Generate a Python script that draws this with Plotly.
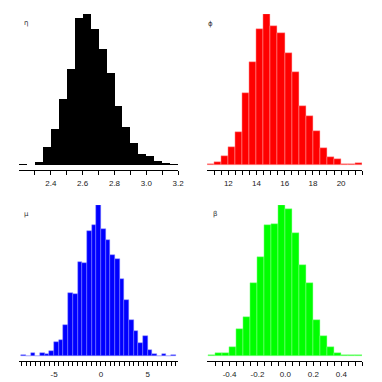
import numpy as np
import plotly.graph_objects as go

# ---- data (histogram counts) ----
eta_start, eta_width = 2.2, 0.05
eta_counts = [2, 0, 7, 52, 108, 196, 286, 441, 452, 406, 346, 274, 176, 112, 66, 32, 26, 10, 4, 2]

phi_start, phi_width = 10.5, 0.5
phi_counts = [2, 8, 26, 54, 99, 216, 307, 407, 452, 416, 396, 334, 279, 176, 146, 101, 51, 24, 16, 3, 2, 5]

mu_start, mu_width = -8.5, 0.5
mu_counts = [1, 0, 8, 0, 9, 5, 14, 41, 48, 92, 188, 184, 282, 278, 373, 393, 452, 379, 348,
             302, 290, 229, 167, 107, 74, 39, 59, 17, 6, 0, 6, 0, 2]

beta_start, beta_width = -0.55, 0.05
beta_counts = [3, 7, 9, 27, 79, 117, 219, 296, 392, 395, 452, 439, 369, 272, 218, 108, 58, 26, 8, 2, 2, 2]

labels = ["η", "ϕ", "μ", "β"]
colors = ["#000000", "#FF0000", "#0000FF", "#00FF00"]
seam = ["rgba(0,0,0,0)", "rgba(255,170,170,0.9)", "rgba(140,140,255,0.9)", "rgba(150,255,150,0.9)"]

eta_ticks = [2.3, 2.4, 2.5, 2.6, 2.7, 2.8, 2.9, 3.0, 3.1, 3.2]
eta_ticklabels = ["", "2.4", "", "2.6", "", "2.8", "", "3.0", "", "3.2"]
phi_ticks = [11 + 0.5 * i for i in range(22)]
phi_ticklabels = [("%d" % t if t in (12, 14, 16, 18, 20) else "") for t in phi_ticks]
mu_ticks = [-8.5 + 0.5 * i for i in range(34)]
mu_ticklabels = [({-5: "-5", 0: "0", 5: "5"}.get(t, "")) for t in mu_ticks]
beta_ticks = [round(-0.5 + 0.05 * i, 2) for i in range(22)]
beta_ticklabels = [({-0.4: "-0.4", -0.2: "-0.2", 0.0: "0.0", 0.2: "0.2", 0.4: "0.4"}.get(t, "")) for t in beta_ticks]

panels = [
    (eta_start, eta_width, eta_counts, [2.2, 3.2], eta_ticks, eta_ticklabels),
    (phi_start, phi_width, phi_counts, [10.5, 21.5], phi_ticks, phi_ticklabels),
    (mu_start, mu_width, mu_counts, [-8.75, 8.25], mu_ticks, mu_ticklabels),
    (beta_start, beta_width, beta_counts, [-0.56, 0.55], beta_ticks, beta_ticklabels),
]

W = H = 382
xdom = [[19.3 / W, 181.0 / W], [210.5 / W, 368.0 / W]]
ydom = [[1 - 170.0 / H, 1 - 14.0 / H], [1 - 361.0 / H, 1 - 205.0 / H]]
label_pos = [(26, 23), (214, 24), (27, 214), (218, 214)]

fig = go.Figure()
layout = dict(width=W, height=H, margin=dict(l=0, r=0, t=0, b=0),
              paper_bgcolor="white", plot_bgcolor="white", showlegend=False,
              bargap=0, annotations=[])

for i, (start, width, counts, xr, tv, tt) in enumerate(panels):
    n = len(counts)
    centers = start + width * (np.arange(n) + 0.5)
    ax = "" if i == 0 else str(i + 1)
    fig.add_trace(go.Bar(x=centers, y=counts, width=width,
                         marker=dict(color=colors[i], line=dict(color=seam[i], width=0.5 if i else 0)),
                         xaxis="x" + ax, yaxis="y" + ax, hoverinfo="skip"))
    row, col = i // 2, i % 2
    m = max(counts)
    layout["xaxis" + ax] = dict(domain=xdom[col], anchor="y" + ax, range=xr,
                               showline=True, linecolor="#000", linewidth=1,
                               ticks="outside", ticklen=4, tickwidth=1, tickcolor="#000",
                               tickvals=tv, ticktext=tt, showgrid=False, zeroline=False,
                               tickfont=dict(family="Liberation Sans", size=8, color="#222"),
                               ticklabelstandoff=1)
    layout["yaxis" + ax] = dict(domain=ydom[row], anchor="x" + ax,
                               range=[-0.0352 * m, m * 1.001], visible=False)
    px, py = label_pos[i]
    layout["annotations"].append(dict(text=labels[i], x=px / W, y=1 - py / H, xref="paper", yref="paper",
                                      showarrow=False, xanchor="center", yanchor="middle",
                                      font=dict(family="DejaVu Sans", size=7, color="#333")))

fig.update_layout(**layout)
fig.write_html("out.html", config={"displayModeBar": False},
               post_script="document.body.style.margin='0';document.body.style.padding='0';")
